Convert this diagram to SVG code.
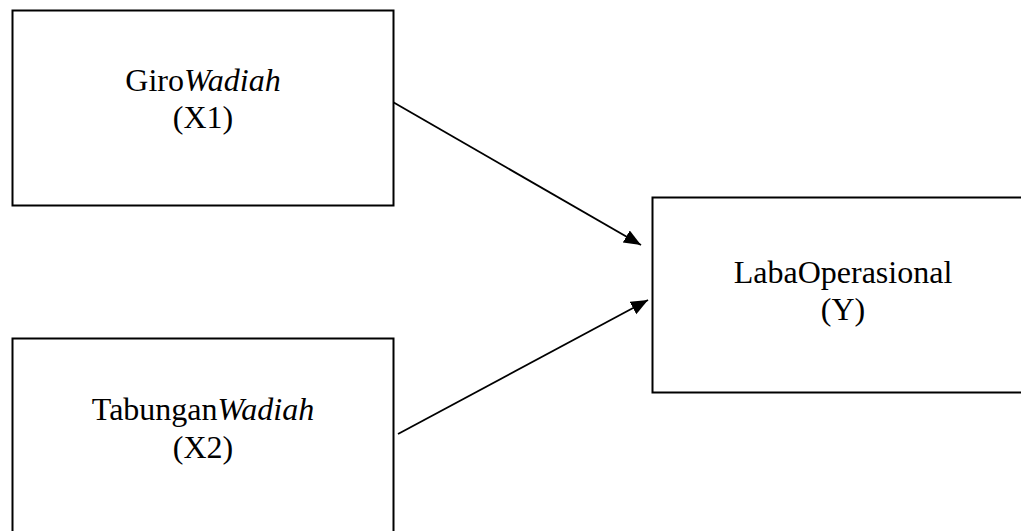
<svg xmlns="http://www.w3.org/2000/svg" width="1021" height="531" viewBox="0 0 1021 531">
<style>
.box{fill:#fff;stroke:#000;stroke-width:2}
.lbl{font-family:"Liberation Serif","Times New Roman",serif;font-size:32px;fill:#000;text-anchor:middle}
.it{font-style:italic}
.conn{stroke:#000;stroke-width:1.8;fill:none}
</style>
<defs>
<marker id="ah" markerUnits="userSpaceOnUse" markerWidth="20" markerHeight="16" refX="17" refY="7" orient="auto">
<path d="M0,0 L17,7 L0,14 z" fill="#000"/>
</marker>
</defs>
<rect width="1021" height="531" fill="#fff"/>
<g id="connectors">
<line class="conn" x1="392" y1="101.5" x2="641" y2="245" marker-end="url(#ah)"/>
<line class="conn" x1="398" y1="434" x2="648" y2="300" marker-end="url(#ah)"/>
</g>
<g id="node-x1">
<rect class="box" x="12.5" y="10.5" width="381" height="195"/>
<text class="lbl" x="203" y="91">Giro<tspan class="it">Wadiah</tspan></text>
<text class="lbl" x="203" y="128">(X1)</text>
</g>
<g id="node-x2">
<rect class="box" x="12.5" y="338.5" width="381" height="205"/>
<text class="lbl" x="203" y="420">Tabungan<tspan class="it">Wadiah</tspan></text>
<text class="lbl" x="203" y="458">(X2)</text>
</g>
<g id="node-y">
<rect class="box" x="652.5" y="197.5" width="380" height="195"/>
<text class="lbl" x="843" y="283">LabaOperasional</text>
<text class="lbl" x="843" y="320">(Y)</text>
</g>
</svg>
